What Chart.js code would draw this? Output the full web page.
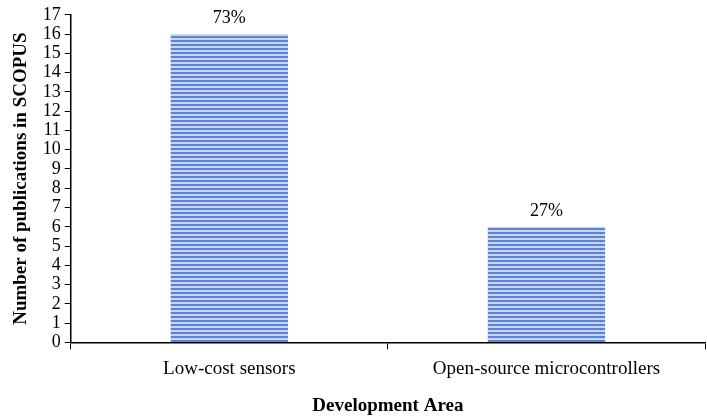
<!DOCTYPE html>
<html><head><meta charset="utf-8">
<script src="https://cdn.jsdelivr.net/npm/chart.js@4"></script>
<style>html,body{margin:0;padding:0;background:#fff}#wrap{width:707px;height:420px}</style>
</head><body><div id="wrap"><canvas id="c" width="707" height="420"></canvas></div>
<script>
const categories = ["Low-cost sensors", "Open-source microcontrollers"];
const publications = [16, 6];
const percentLabels = ["73%", "27%"];
const yTicks = [0,1,2,3,4,5,6,7,8,9,10,11,12,13,14,15,16,17];

function stripes(){
  const p = document.createElement('canvas');
  p.width = 4; p.height = 4;
  const g = p.getContext('2d');
  g.fillStyle = '#c8d6f1'; g.fillRect(0,0,4,4);
  g.fillStyle = '#5a83d5'; g.fillRect(0,0,4,2);
  return g.createPattern(p,'repeat');
}
const ctx = document.getElementById('c').getContext('2d');
const serif = "'Liberation Serif','DejaVu Serif',serif";
const labelPlugin = {
  id:'pctLabels',
  afterDatasetsDraw(chart){
    const c = chart.ctx;
    const meta = chart.getDatasetMeta(0);
    c.save();
    c.font = "18px " + serif;
    c.fillStyle = '#000';
    c.textAlign = 'center';
    c.textBaseline = 'bottom';
    meta.data.forEach((bar,i)=>{ c.fillText(percentLabels[i], bar.x, bar.y - 7); });
    c.restore();
  }
};
new Chart(ctx,{
  type:'bar',
  data:{labels:categories,datasets:[{data:publications,backgroundColor:stripes(),borderWidth:0,barPercentage:0.74,categoryPercentage:0.5}]},
  options:{
    responsive:false,animation:false,
    layout:{padding:{top:4,right:2,left:6,bottom:3}},
    plugins:{legend:{display:false},tooltip:{enabled:false}},
    scales:{
      x:{
        grid:{display:true,drawOnChartArea:false,drawTicks:true,tickLength:7,color:'#000',offset:true},
        border:{display:true,color:'#000',width:1.5},
        ticks:{color:'#000',font:{family:serif,size:19},padding:8},
        title:{display:true,text:'Development Area',color:'#000',font:{family:serif,size:19,weight:'bold'},padding:{top:6,bottom:0}}
      },
      y:{
        min:0,max:17,
        afterBuildTicks(s){ s.ticks = yTicks.map(v=>({value:v})); },
        grid:{display:true,drawOnChartArea:false,drawTicks:true,tickLength:6,color:'#000'},
        border:{display:true,color:'#000',width:1.5},
        ticks:{color:'#000',font:{family:serif,size:18},padding:4,autoSkip:false},
        title:{display:true,text:'Number of publications in SCOPUS',color:'#000',font:{family:serif,size:19,weight:'bold'},padding:{bottom:6}}
      }
    }
  },
  plugins:[labelPlugin]
});
</script></body></html>
